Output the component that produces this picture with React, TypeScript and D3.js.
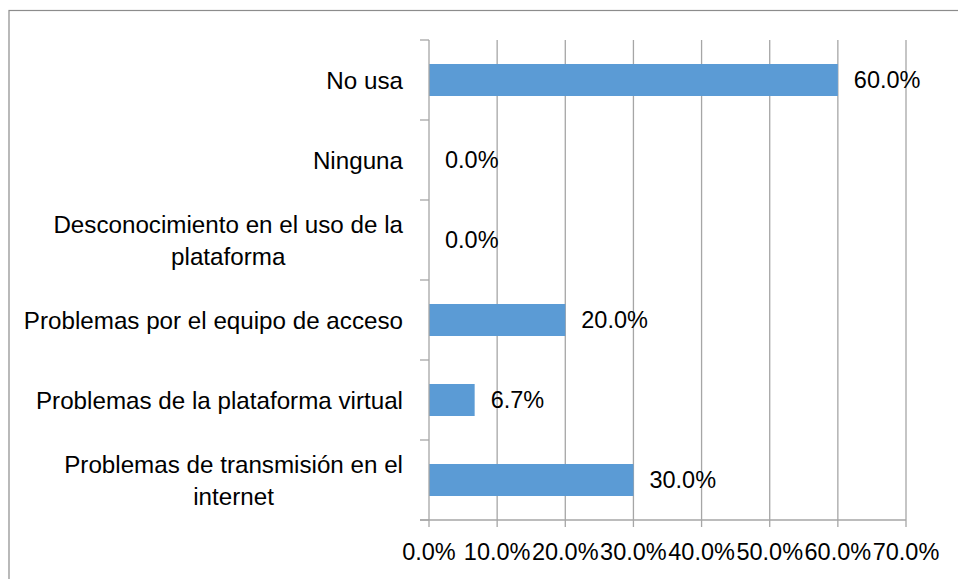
import React from "react";
import * as d3 from "d3";

const categories: string[] = [
  "No usa",
  "Ninguna",
  "Desconocimiento en el uso de la\nplataforma",
  "Problemas por el equipo de acceso",
  "Problemas de la plataforma virtual",
  "Problemas de transmisión en el\ninternet",
];
const values: number[] = [0.6, 0.0, 0.0, 0.2, 0.067, 0.3];
const xTicks: number[] = [0, 0.1, 0.2, 0.3, 0.4, 0.5, 0.6, 0.7];

const W = 958;
const H = 579;
const FONT = "'Liberation Sans', Arial, sans-serif";
const FS = 23.5;
const FS_CAT = 24.2;
const GRID = "#a6a6a6";
const BAR = "#5b9bd5";

export default function App() {
  const x = d3.scaleLinear().domain([0, 0.7]).range([429, 906]);
  const y = d3
    .scaleBand<string>()
    .domain(categories)
    .range([40, 520])
    .paddingInner(0.6)
    .paddingOuter(0.3);
  const step = y.step();
  const fmt = d3.format(".1%");
  const boundaries = d3.range(categories.length + 1).map((i) => 40 + i * step);

  return (
    <svg
      width={W}
      height={H}
      style={{ position: "absolute", left: 0, top: 0, background: "#fff" }}
      fontFamily={FONT}
    >
      <rect x={9} y={10.5} width={W + 10} height={H + 10} fill="#fff" stroke="#8c8c8c" strokeWidth={1.2} />
      {/* gridlines */}
      {xTicks.slice(1).map((t) => (
        <line key={"g" + t} x1={x(t)} x2={x(t)} y1={40} y2={527} stroke={GRID} strokeWidth={1.3} />
      ))}
      {/* bars */}
      {categories.map((c, i) => (
        <rect
          key={"b" + i}
          x={x(0)}
          y={y(c)!}
          width={x(values[i]) - x(0)}
          height={y.bandwidth()}
          fill={BAR}
        />
      ))}
      {/* y axis */}
      <line x1={x(0)} x2={x(0)} y1={40} y2={527} stroke={GRID} strokeWidth={1.3} />
      {boundaries.map((b, i) => (
        <line key={"yt" + i} x1={420} x2={x(0)} y1={b} y2={b} stroke={GRID} strokeWidth={1.3} />
      ))}
      {/* x axis */}
      <line x1={420} x2={x(0.7)} y1={520} y2={520} stroke={GRID} strokeWidth={1.3} />
      {xTicks.map((t) => (
        <text
          key={"xl" + t}
          x={x(t)}
          y={552}
          textAnchor="middle"
          dominantBaseline="central"
          fontSize={FS}
          fill="#000"
        >
          {fmt(t)}
        </text>
      ))}
      {/* category labels */}
      {categories.map((c, i) => {
        const lines = c.split("\n");
        const cy = y(c)! + y.bandwidth() / 2;
        const lh = 32;
        const cx = 403;
        if (lines.length === 1) {
          return (
            <text key={"cl" + i} x={cx} y={cy} textAnchor="end" dominantBaseline="central" fontSize={FS_CAT} fill="#000">
              {c}
            </text>
          );
        }
        return (
          <g key={"cl" + i}>
            <text
              x={cx}
              y={cy - lh / 2}
              textAnchor="end"
              dominantBaseline="central"
              fontSize={FS_CAT}
              fill="#000"
              ref={(el) => {
                if (el && el.nextSibling) {
                  const w = el.getComputedTextLength();
                  (el.nextSibling as SVGTextElement).setAttribute("x", String(cx - w / 2));
                }
              }}
            >
              {lines[0]}
            </text>
            <text x={cx - 170} y={cy + lh / 2} textAnchor="middle" dominantBaseline="central" fontSize={FS_CAT} fill="#000">
              {lines[1]}
            </text>
          </g>
        );
      })}
      {/* value labels */}
      {categories.map((c, i) => (
        <text
          key={"vl" + i}
          x={x(values[i]) + 16}
          y={y(c)! + y.bandwidth() / 2}
          dominantBaseline="central"
          fontSize={FS}
          fill="#000"
        >
          {fmt(values[i])}
        </text>
      ))}
    </svg>
  );
}
